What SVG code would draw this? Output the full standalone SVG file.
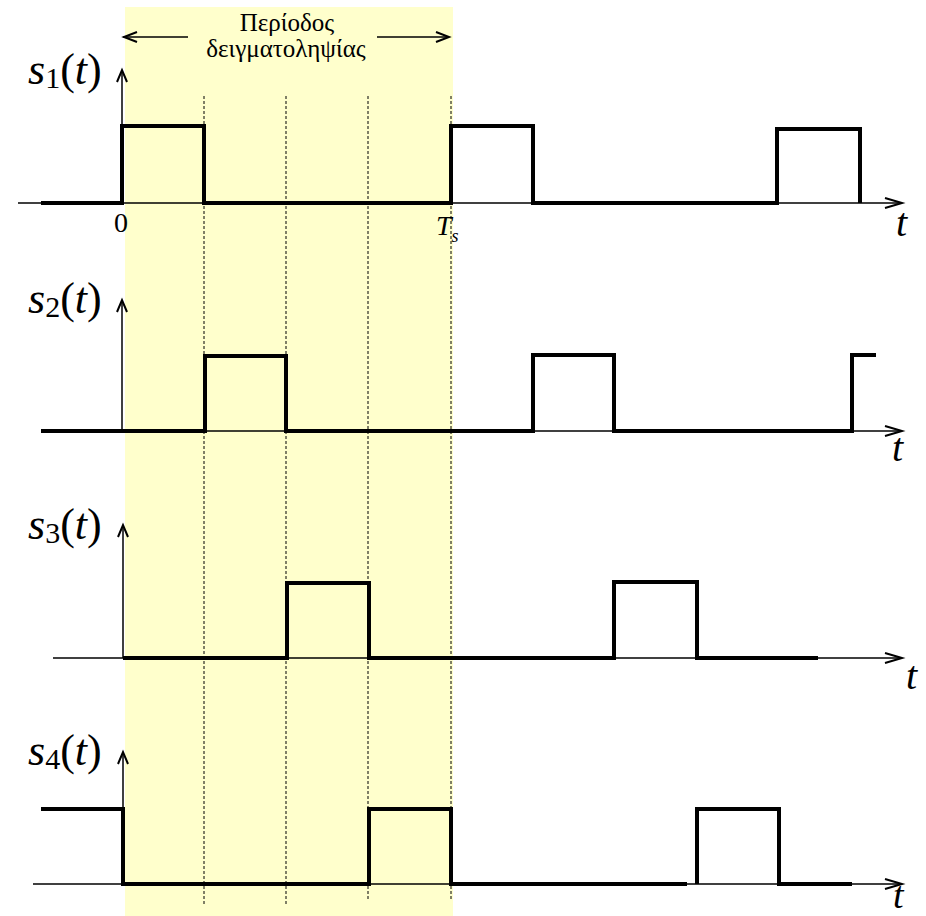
<svg xmlns="http://www.w3.org/2000/svg" width="926" height="916" viewBox="0 0 926 916">
<style>
.bg{fill:#ffffcc;stroke:none}
.dash{stroke:#000;stroke-width:1;stroke-dasharray:3 2;fill:none}
.axis{stroke:#000;stroke-width:1.5;fill:none}
.sig{stroke:#000;stroke-width:4;fill:none;stroke-linejoin:miter;stroke-linecap:butt}
.head{stroke:#000;stroke-width:2;fill:none}
text{font-family:'Liberation Serif','DejaVu Serif',serif;fill:#000}
.it{font-style:italic}
</style>
<rect id="period-band" class="bg" x="125" y="7" width="328" height="909"/>
<g id="connectors">
  <line class="dash" x1="204" y1="96" x2="204" y2="904"/>
  <line class="dash" x1="286" y1="96" x2="286" y2="904"/>
  <line class="dash" x1="368" y1="96" x2="368" y2="900"/>
  <line class="dash" x1="451" y1="96" x2="451" y2="900"/>
  <line class="axis" x1="123" y1="37" x2="188" y2="37"/>
  <polyline class="head" points="137,32 124,37 137,42"/>
  <line class="axis" x1="377" y1="37" x2="449" y2="37"/>
  <polyline class="head" points="436,32 449,37 436,42"/>
</g>
<g id="title">
  <text x="287" y="31" font-size="25" text-anchor="middle">Περίοδος</text>
  <text x="286" y="57" font-size="25" text-anchor="middle">δειγματοληψίας</text>
</g>
<g id="s1">
  <line class="axis" x1="18" y1="203" x2="901" y2="203"/>
  <polyline class="head" points="885,198 902,203 885,208"/>
  <line class="axis" x1="122" y1="203" x2="122" y2="71"/>
  <polyline class="head" points="117,82 122,70 127,82"/>
  <polyline class="sig" points="41,203 122,203 122,126 204,126 204,203 451,203 451,126 533,126 533,203 777,203 777,129 860,129 860,203"/>
  <text x="28" y="84" font-size="44"><tspan class="it">s</tspan><tspan font-size="30" dy="4">1</tspan><tspan dy="-4">(</tspan><tspan class="it">t</tspan><tspan>)</tspan></text>
  <text class="it" x="896" y="236" font-size="40">t</text>
  <text x="121" y="232" font-size="28" text-anchor="middle">0</text>
  <text x="436" y="235" font-size="28"><tspan class="it">T</tspan><tspan class="it" font-size="18" dy="7">s</tspan></text>
</g>
<g id="s2">
  <line class="axis" x1="41" y1="431" x2="901" y2="431"/>
  <polyline class="head" points="885,426 902,431 885,436"/>
  <line class="axis" x1="122" y1="431" x2="122" y2="301"/>
  <polyline class="head" points="117,312 122,300 127,312"/>
  <polyline class="sig" points="41,431 205,431 205,356 286,356 286,431 533,431 533,355 614,355 614,431 852,431 852,355 876,355"/>
  <text x="28" y="313" font-size="44"><tspan class="it">s</tspan><tspan font-size="30" dy="4">2</tspan><tspan dy="-4">(</tspan><tspan class="it">t</tspan><tspan>)</tspan></text>
  <text class="it" x="892" y="461" font-size="40">t</text>
</g>
<g id="s3">
  <line class="axis" x1="53" y1="658" x2="901" y2="658"/>
  <polyline class="head" points="885,653 902,658 885,663"/>
  <line class="axis" x1="123" y1="658" x2="123" y2="526"/>
  <polyline class="head" points="118,537 123,525 128,537"/>
  <polyline class="sig" points="123,658 287,658 287,583 369,583 369,658 614,658 614,582 697,582 697,658 818,658"/>
  <text x="28" y="539" font-size="44"><tspan class="it">s</tspan><tspan font-size="30" dy="4">3</tspan><tspan dy="-4">(</tspan><tspan class="it">t</tspan><tspan>)</tspan></text>
  <text class="it" x="906" y="689" font-size="40">t</text>
</g>
<g id="s4">
  <line class="axis" x1="33" y1="884" x2="901" y2="884"/>
  <polyline class="head" points="885,879 902,884 885,889"/>
  <line class="axis" x1="123" y1="884" x2="123" y2="753"/>
  <polyline class="head" points="118,764 123,752 128,764"/>
  <polyline class="sig" points="41,809 123,809 123,884 369,884 369,809 451,809 451,884 687,884"/>
  <polyline class="sig" points="697,884 697,809 779,809 779,884 852,884"/>
  <text x="28" y="765" font-size="44"><tspan class="it">s</tspan><tspan font-size="30" dy="4">4</tspan><tspan dy="-4">(</tspan><tspan class="it">t</tspan><tspan>)</tspan></text>
  <text class="it" x="893" y="908" font-size="38">t</text>
</g>
</svg>
